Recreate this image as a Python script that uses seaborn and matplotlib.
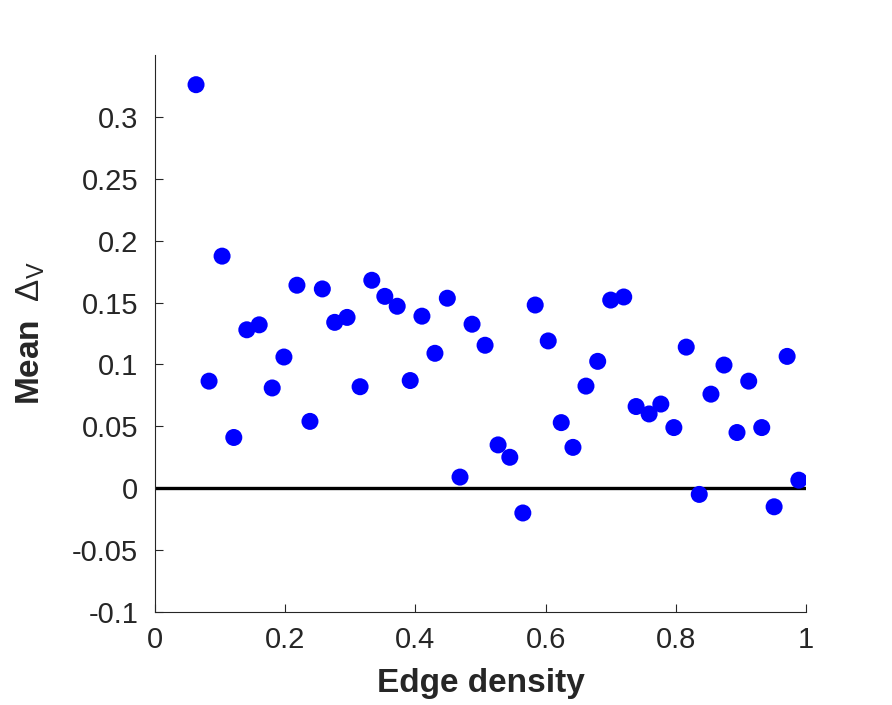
import numpy as np
import pandas as pd
import matplotlib
matplotlib.use("Agg")
import matplotlib.pyplot as plt
import seaborn as sns

# values
edge_density = [0.063, 0.083, 0.103, 0.121, 0.141, 0.160, 0.180, 0.198, 0.218, 0.238,
                0.257, 0.276, 0.295, 0.315, 0.333, 0.353, 0.372, 0.392, 0.410, 0.430,
                0.449, 0.4685, 0.487, 0.507, 0.527, 0.545, 0.565, 0.584, 0.604, 0.624,
                0.642, 0.662, 0.680, 0.700, 0.720, 0.739, 0.759, 0.777, 0.797, 0.816,
                0.836, 0.854, 0.874, 0.894, 0.912, 0.932, 0.951, 0.971, 0.989]
mean_delta_v = [0.326, 0.0865, 0.1875, 0.041, 0.128, 0.132, 0.081, 0.106, 0.164, 0.054,
                0.161, 0.134, 0.138, 0.082, 0.168, 0.155, 0.147, 0.087, 0.139, 0.109,
                0.1535, 0.009, 0.1325, 0.1155, 0.035, 0.025, -0.020, 0.148, 0.119, 0.053,
                0.033, 0.0825, 0.1025, 0.152, 0.1545, 0.066, 0.060, 0.068, 0.049, 0.114,
                -0.005, 0.076, 0.0995, 0.045, 0.0865, 0.049, -0.015, 0.1065, 0.0065]

xticks = [0, 0.2, 0.4, 0.6, 0.8, 1]
xtick_labels = ['0', '0.2', '0.4', '0.6', '0.8', '1']
yticks = [-0.1, -0.05, 0, 0.05, 0.1, 0.15, 0.2, 0.25, 0.3]
ytick_labels = ['-0.1', '-0.05', '0', '0.05', '0.1', '0.15', '0.2', '0.25', '0.3']

df = pd.DataFrame({'density': edge_density, 'delta': mean_delta_v})

sns.set_style('white')
plt.rcParams['font.family'] = ['Liberation Sans', 'DejaVu Sans']
plt.rcParams['mathtext.fontset'] = 'custom'
plt.rcParams['mathtext.rm'] = 'Liberation Sans'
plt.rcParams['mathtext.it'] = 'Liberation Sans'

fig = plt.figure(figsize=(8.92, 7.05), dpi=100)
ax = fig.add_axes([0.1738, 0.1319, 0.7298, 0.7901])

# zero reference line
ax.plot([0, 1], [0, 0], color='black', linewidth=2.4, zorder=1)

sns.scatterplot(data=df, x='density', y='delta', ax=ax, color='#0000ff',
                s=150, edgecolor='none', zorder=2)

ax.set_xlim(0, 1)
ax.set_ylim(-0.1, 0.35)
ax.set_xticks(xticks)
ax.set_xticklabels(xtick_labels)
ax.set_yticks(yticks)
ax.set_yticklabels(ytick_labels)

for side in ['top', 'right']:
    ax.spines[side].set_visible(False)
for side in ['left', 'bottom']:
    ax.spines[side].set_color('#262626')
    ax.spines[side].set_linewidth(0.8)

ax.tick_params(bottom=True, left=True, direction='in', length=6, width=0.8,
               colors='#262626', labelsize=21)
ax.tick_params(axis='y', pad=12)
ax.tick_params(axis='x', pad=10)

ax.set_xlabel('Edge density', fontsize=24, fontweight='bold', color='#262626', labelpad=10)
ax.set_ylabel(r'Mean  $\Delta_V$', fontsize=24, fontweight='bold', color='#262626', labelpad=18)

fig.savefig('out.png', dpi=100)
